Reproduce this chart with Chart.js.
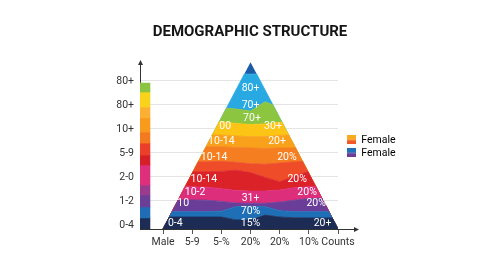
<!DOCTYPE html>
<html>
<head>
<meta charset="utf-8">
<script src="https://cdn.jsdelivr.net/npm/chart.js@4.4.0/dist/chart.umd.min.js"></script>
<style>
  html, body { margin: 0; padding: 0; background: #fff; }
</style>
</head>
<body>
<canvas id="chart" width="500" height="273"></canvas>
<script>
// axis labels
const xLabels = ['Male', '5-9', '5-%', '20%', '20%', '10%', 'Counts'];
const yLabels = ['0-4', '1-2', '2-0', '5-9', '10+', '80+', '80+'];

// band boundaries (upper edge of each colour band) read at these x positions
const sampleX      = [0, 0.5, 1, 1.5, 2, 2.5, 3, 3.5, 4, 4.5, 5, 5.5, 6];
const navyTop      = [0.5, 0.5, 0.5, 0.5, 0.5, 0.38, 0.37, 0.58, 0.5, 0.47, 0.46, 0.46, 0.46];
const blueTop      = [0.72, 0.72, 0.72, 0.72, 0.74, 0.93, 0.95, 0.93, 0.76, 0.72, 0.72, 0.72, 0.72];
const purpleTop    = [1.21, 1.21, 1.21, 1.2, 1.15, 1.08, 1.07, 1.07, 1.12, 1.2, 1.27, 1.28, 1.28];
const magentaTop   = [1.76, 1.76, 1.76, 1.74, 1.68, 1.6, 1.58, 1.58, 1.62, 1.72, 1.76, 1.76, 1.76];
const redTop       = [2.39, 2.39, 2.39, 2.38, 2.4, 2.45, 2.35, 2.15, 1.97, 2.2, 2.4, 2.45, 2.45];
const orangeRedTop = [2.8, 2.8, 2.8, 2.8, 2.82, 2.78, 2.72, 2.7, 2.75, 2.8, 2.82, 2.82, 2.82];
const orangeTop    = [3.43, 3.43, 3.43, 3.43, 3.43, 3.4, 3.38, 3.36, 3.38, 3.38, 3.37, 3.37, 3.37];
const amberTop     = [3.92, 3.92, 3.92, 3.92, 3.92, 3.88, 3.85, 3.85, 3.9, 3.92, 3.92, 3.92, 3.92];
const yellowTop    = [4.48, 4.48, 4.48, 4.48, 4.48, 4.4, 4.35, 4.38, 4.45, 4.45, 4.45, 4.45, 4.45];
const greenTop     = [5.05, 5.05, 5.05, 5.05, 5.05, 5.0, 4.92, 5.3, 5.05, 5.0, 5.0, 5.0, 5.0];
const skyTop       = [6.5, 6.5, 6.5, 6.5, 6.5, 6.48, 6.45, 6.48, 6.5, 6.5, 6.5, 6.5, 6.5];
const apexTop      = [7, 7, 7, 7, 7, 7, 7, 7, 7, 7, 7, 7, 7];

// left colour bar segments [from, to], bottom to top
const barSegments = [[0, 0.46], [0.46, 0.92], [0.92, 1.42], [1.42, 1.83], [1.83, 2.67], [2.67, 3.08],
                     [3.08, 3.58], [3.58, 4.04], [4.04, 4.63], [4.63, 5.08], [5.08, 5.71], [5.71, 6.08]];

// texts inside the pyramid
const bandLabels = [
  ['80+', 3.0, 5.88], ['70+', 3.0, 5.17], ['70+', 3.05, 4.6],
  ['00', 2.13, 4.27], ['30+', 3.77, 4.27],
  ['10-14', 2.0, 3.67], ['20+', 3.91, 3.67],
  ['10-14', 1.75, 2.97], ['20%', 4.25, 2.97],
  ['10-14', 1.4, 2.08], ['20%', 4.6, 2.08],
  ['10-2', 1.1, 1.54], ['31+', 3.0, 1.29], ['20%', 4.94, 1.54],
  ['10', 0.69, 1.05], ['20%', 5.25, 1.05],
  ['70%', 3.0, 0.72],
  ['0-4', 0.42, 0.25], ['15%', 3.0, 0.25], ['20+', 5.47, 0.25]
];

const legendNames = ['Female', 'Female'];

// geometry / styling
const apexX = 3;
const apexHeight = 6.95;
const barX = -0.62;
const font = 'Roboto';

const bands = [
  { top: navyTop,      color: '#1c2c55' },
  { top: blueTop,      color: '#1f6fb7' },
  { top: purpleTop,    color: '#6a3e98' },
  { top: magentaTop,   color: '#dc2e7b' },
  { top: redTop,       color: '#dc2229' },
  { top: orangeRedTop, color: '#ef4d2a' },
  { top: orangeTop,    color: '#f57f20' },
  { top: amberTop,     color: '#f9a11b' },
  { top: yellowTop,    color: '#fcc516' },
  { top: greenTop,     color: '#8cc53f' },
  { top: skyTop,       color: '#29a9e1' },
  { top: apexTop,      color: '#1c5ca6' }
];
const barColors = ['#1d2c54', '#1f6db5', '#6b3f97', '#9a3b8e', '#dd2f7a', '#d71f27',
                   '#ec3f2a', '#f47a20', '#f89a1c', '#fbb034', '#f9d21c', '#8bc440'];

function triangle(x) {
  return Math.max(0, apexHeight * (1 - Math.abs(x - apexX) / apexX));
}

// keep a boundary inside the pyramid, adding the points where it meets the sides
function clipBoundary(tops) {
  const pts = [];
  for (let i = 0; i < sampleX.length; i++) {
    const x0 = sampleX[i];
    const d0 = tops[i] - triangle(x0);
    pts.push({ x: x0, y: Math.min(tops[i], triangle(x0)) });
    if (i < sampleX.length - 1) {
      const x1 = sampleX[i + 1];
      const d1 = tops[i + 1] - triangle(x1);
      if ((d0 < 0 && d1 > 0) || (d0 > 0 && d1 < 0)) {
        const x = x0 + (d0 / (d0 - d1)) * (x1 - x0);
        pts.push({ x: x, y: triangle(x) });
      }
    }
  }
  return pts;
}

function twoTone(c1, c2) {
  const c = document.createElement('canvas');
  c.width = 9; c.height = 9;
  const g = c.getContext('2d');
  g.fillStyle = c1; g.fillRect(0, 0, 9, 4.5);
  g.fillStyle = c2; g.fillRect(0, 4.5, 9, 4.5);
  return c;
}
const legendIcons = [twoTone('#f9ac1b', '#f15a24'), twoTone('#1f72ba', '#6b3d96')];

const datasets = bands.map((b, i) => ({
  type: 'line',
  data: clipBoundary(b.top),
  backgroundColor: b.color,
  borderColor: i === bands.length - 1 ? 'transparent' : b.color,
  borderWidth: i === bands.length - 1 ? 0 : 0.8,
  pointRadius: 0,
  tension: 0,
  fill: i === 0 ? 'origin' : '-1'
}));
datasets.push({
  type: 'bar',
  data: barSegments.map(s => ({ x: barX, y: s })),
  backgroundColor: barColors,
  borderWidth: 0,
  barThickness: 10
});

const decor = {
  id: 'decor',
  afterLayout(chart) {
    // title centred on the whole canvas, legend placed beside the axis end
    const tb = chart.titleBlock;
    tb.left = 0; tb.right = chart.width; tb.width = chart.width;
    const lg = chart.legend;
    const h = lg.height;
    lg.left = 344.5; lg.width = 70; lg.right = lg.left + lg.width;
    lg.top = 132.2; lg.bottom = lg.top + h;
  },
  afterDatasetsDraw(chart) {
    const { ctx, scales: { x, y } } = chart;
    ctx.save();
    ctx.font = '10.5px ' + font;
    ctx.fillStyle = '#ffffff';
    ctx.textAlign = 'center';
    ctx.textBaseline = 'middle';
    bandLabels.forEach(([t, vx, vy]) => ctx.fillText(t, x.getPixelForValue(vx), y.getPixelForValue(vy)));
    ctx.restore();
  },
  afterDraw(chart) {
    const { ctx, chartArea: a } = chart;
    ctx.save();
    ctx.strokeStyle = '#333';
    ctx.fillStyle = '#333';
    ctx.lineWidth = 1;
    ctx.beginPath();
    ctx.moveTo(a.right, a.bottom + 0.5);
    ctx.lineTo(355, a.bottom + 0.5);
    ctx.stroke();
    ctx.beginPath();
    ctx.moveTo(359, a.bottom + 0.5);
    ctx.lineTo(354, a.bottom - 2);
    ctx.lineTo(354, a.bottom + 3);
    ctx.fill();
    ctx.beginPath();
    ctx.moveTo(a.left + 0.5, a.top - 1);
    ctx.lineTo(a.left - 2, a.top + 4);
    ctx.lineTo(a.left + 3, a.top + 4);
    ctx.fill();
    ctx.restore();
  }
};

new Chart(document.getElementById('chart'), {
  type: 'line',
  data: { datasets },
  options: {
    responsive: false,
    animation: false,
    devicePixelRatio: 1,
    layout: { padding: { left: 0, right: 122, top: 0, bottom: 24 } },
    scales: {
      x: {
        type: 'linear',
        min: -0.79,
        max: 6,
        offset: false,
        afterBuildTicks: s => { s.ticks = xLabels.map((_, i) => ({ value: i })); },
        afterFit: s => { s.height = 20; },
        ticks: {
          callback: (v, i) => xLabels[i],
          autoSkip: false,
          maxRotation: 0,
          padding: 2,
          color: '#333',
          font: { family: font, size: 10.5 }
        },
        grid: { offset: false, drawOnChartArea: false, drawTicks: true, tickLength: 5, color: '#555' },
        border: { color: '#333', width: 1 }
      },
      y: {
        type: 'linear',
        min: 0,
        max: 7,
        afterBuildTicks: s => { s.ticks = yLabels.map((_, i) => ({ value: i + 0.17 })); },
        afterFit: s => { s.width = 140; },
        ticks: {
          callback: (v, i) => yLabels[i],
          padding: 6,
          color: '#333',
          font: { family: font, size: 10.5 }
        },
        grid: { drawTicks: false, color: c => c.index === 0 ? 'rgba(0,0,0,0)' : '#e4e4e4' },
        border: { color: '#333', width: 1 }
      }
    },
    plugins: {
      title: {
        display: true,
        text: 'DEMOGRAPHIC STRUCTURE',
        color: '#151515',
        font: { family: font, size: 15, weight: 'bold' },
        padding: { top: 23, bottom: 20 }
      },
      legend: {
        position: 'right',
        align: 'start',
        maxWidth: 40,
        labels: {
          usePointStyle: true,
          pointStyleWidth: 9,
          padding: 2.5,
          color: '#333',
          font: { family: font, size: 10.5 },
          generateLabels: () => legendNames.map((n, i) => ({
            text: n,
            pointStyle: legendIcons[i],
            fillStyle: 'transparent',
            strokeStyle: 'transparent',
            lineWidth: 0,
            hidden: false,
            datasetIndex: i
          }))
        }
      },
      tooltip: { enabled: false }
    }
  },
  plugins: [decor]
});
</script>
</body>
</html>
